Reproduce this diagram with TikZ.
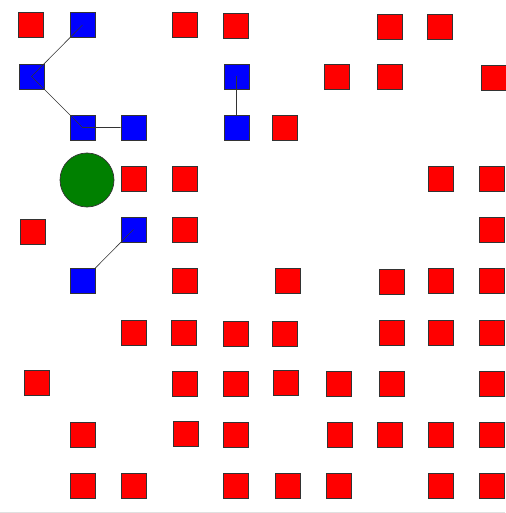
\documentclass[tikz,border=0pt]{standalone}
\usepackage{xcolor}
\definecolor{cell-red}{HTML}{FF0000}
\definecolor{cell-blue}{HTML}{0000FF}
\definecolor{agent-green}{HTML}{008000}
\definecolor{cell-edge}{HTML}{333333}

\begin{document}
\begin{tikzpicture}[x=1pt, y=-1pt,
      cell/.style={draw=cell-edge, line width=0.7pt, inner sep=0pt, minimum size=25pt},
      redcell/.style={cell, fill=cell-red},
      bluecell/.style={cell, fill=cell-blue},
      link/.style={draw=cell-edge, line width=0.6pt}]
    \useasboundingbox (0,0) rectangle (505,513);
    % red cells, row by row
    \node[redcell] (r1a) at (31,25) {};
    \node[redcell] (r1b) at (185,25) {};
    \node[redcell] (r1c) at (235.5,26) {};
    \node[redcell] (r1d) at (389.5,26.5) {};
    \node[redcell] (r1e) at (440,26.5) {};
    \node[redcell] (r2a) at (337,76.5) {};
    \node[redcell] (r2b) at (389.5,76.5) {};
    \node[redcell] (r2c) at (493.5,77.5) {};
    \node[redcell] (r3a) at (284.5,127.5) {};
    \node[redcell] (r4a) at (133.5,178.5) {};
    \node[redcell] (r4b) at (185,178.5) {};
    \node[redcell] (r4c) at (440.5,178.5) {};
    \node[redcell] (r4d) at (491.5,178.5) {};
    \node[redcell] (r5a) at (32.5,231.5) {};
    \node[redcell] (r5b) at (185,229.5) {};
    \node[redcell] (r5c) at (491.5,229.5) {};
    \node[redcell] (r6a) at (185,281) {};
    \node[redcell] (r6b) at (287.5,281) {};
    \node[redcell] (r6c) at (391.5,282) {};
    \node[redcell] (r6d) at (440.5,281) {};
    \node[redcell] (r6e) at (491.5,281) {};
    \node[redcell] (r7a) at (133.5,332.5) {};
    \node[redcell] (r7b) at (183.5,332.5) {};
    \node[redcell] (r7c) at (235.5,333.5) {};
    \node[redcell] (r7d) at (284.5,333.5) {};
    \node[redcell] (r7e) at (392,332.5) {};
    \node[redcell] (r7f) at (441,332.5) {};
    \node[redcell] (r7g) at (491.5,332.5) {};
    \node[redcell] (r8a) at (36.7,383) {};
    \node[redcell] (r8b) at (185,383.5) {};
    \node[redcell] (r8c) at (236,383.5) {};
    \node[redcell] (r8d) at (285.5,382.5) {};
    \node[redcell] (r8e) at (338.5,383.5) {};
    \node[redcell] (r8f) at (391.5,383.5) {};
    \node[redcell] (r8g) at (491.5,383.5) {};
    \node[redcell] (r9a) at (82.5,434.5) {};
    \node[redcell] (r9b) at (186,433.5) {};
    \node[redcell] (r9c) at (236,434.5) {};
    \node[redcell] (r9d) at (339.5,434.5) {};
    \node[redcell] (r9e) at (389.5,434.5) {};
    \node[redcell] (r9f) at (441,434.5) {};
    \node[redcell] (r9g) at (491.5,434.5) {};
    \node[redcell] (r10a) at (82.5,485.5) {};
    \node[redcell] (r10b) at (133.5,485.5) {};
    \node[redcell] (r10c) at (236,485.5) {};
    \node[redcell] (r10d) at (287.5,485.5) {};
    \node[redcell] (r10e) at (338.5,485.5) {};
    \node[redcell] (r10f) at (441,485.5) {};
    \node[redcell] (r10g) at (491.5,485.5) {};
    % blue cells and their links
    \node[bluecell] (b1) at (82.5,25) {};
    \node[bluecell] (b2) at (31.5,76.5) {};
    \node[bluecell] (b3) at (82.5,127.5) {};
    \node[bluecell] (b4) at (133.5,127.5) {};
    \node[bluecell] (b5) at (236.5,76.5) {};
    \node[bluecell] (b6) at (236.5,127.5) {};
    \node[bluecell] (b7) at (133.5,229.5) {};
    \node[bluecell] (b8) at (82.5,281) {};
    \draw[link] (b1.center) -- (b2.center) -- (b3.center) -- (b4);
    \draw[link] (b5.center) -- (b6);
    \draw[link] (b7.center) -- (b8);
    % the agent
    \node[circle, draw=cell-edge, line width=0.7pt, fill=agent-green,
          inner sep=0pt, minimum size=54pt] (agent) at (87,180) {};
    \draw[black!12, line width=0.8pt] (0,512) -- (505,512);
  \end{tikzpicture}
\end{document}
